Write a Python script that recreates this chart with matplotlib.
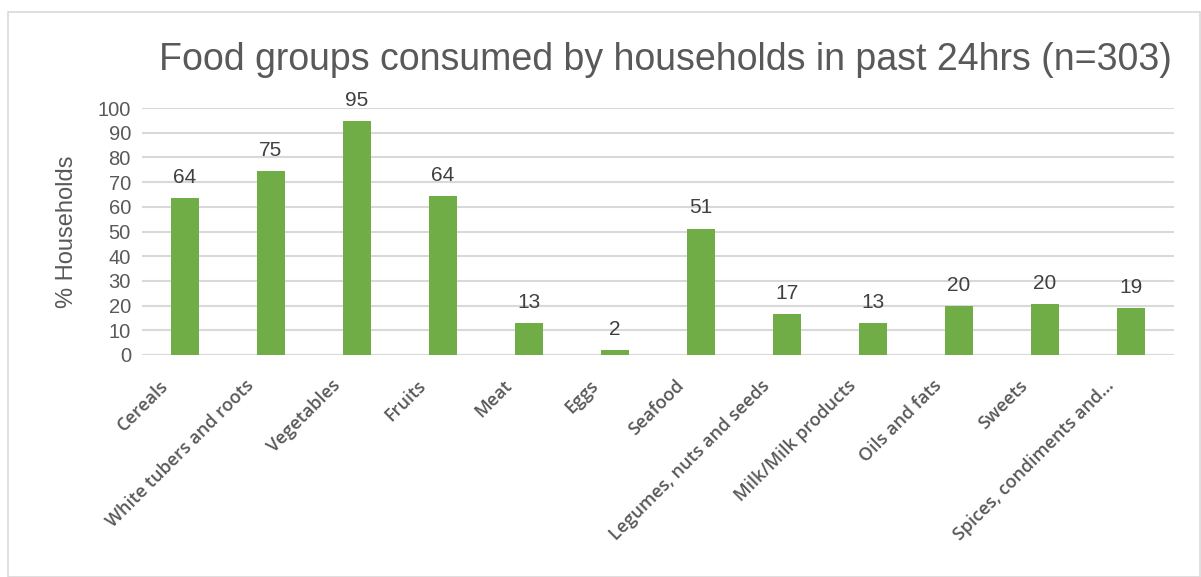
import matplotlib.pyplot as plt
from matplotlib.patches import Rectangle
from matplotlib.transforms import ScaledTranslation

groups = ["Cereals", "White tubers and roots", "Vegetables", "Fruits", "Meat", "Eggs",
          "Seafood", "Legumes, nuts and seeds", "Milk/Milk products", "Oils and fats",
          "Sweets", "Spices, condiments and..."]
pct = [63.7, 74.6, 94.7, 64.4, 12.9, 2.0, 51.2, 16.5, 12.9, 19.8, 20.5, 19.1]
labels = ["64", "75", "95", "64", "13", "2", "51", "17", "13", "20", "20", "19"]

grey = "#595959"
green = "#70ad47"

fig = plt.figure(figsize=(12.01, 5.77), dpi=100)
fig.patches.append(Rectangle((8/1201, 0), 1 - 9/1201, 1 - 12/577, transform=fig.transFigure,
                             fill=False, edgecolor="#d9d9d9", linewidth=1.2))
ax = fig.add_axes([142/1201, 222/577, 1032/1201, 247/577])

x = range(len(groups))
ax.bar(x, pct, width=0.32, color=green, zorder=3)
for i, v in enumerate(pct):
    ax.text(i, v + 4.5, labels[i], ha="center", va="bottom", fontsize=15,
            family="Liberation Sans", color="#404040")

ax.set_xlim(-0.5, len(groups) - 0.5)
ax.set_ylim(0, 100)
ax.set_yticks(range(0, 101, 10))
ax.yaxis.grid(True, color="#d9d9d9", linewidth=1.5, zorder=0)
for s in ax.spines.values():
    s.set_visible(False)
ax.axhline(0, color="#d9d9d9", linewidth=1.5, zorder=2)
ax.tick_params(length=0)
ax.tick_params(axis="y", labelsize=14.5, colors=grey, pad=8)
for t in ax.get_yticklabels():
    t.set_family("Liberation Sans")

ax.set_xticks(list(x))
ax.set_xticklabels(groups, rotation=45, ha="right", rotation_mode="anchor",
                   fontsize=13, color=grey, family="Open Sans", fontweight="semibold")
ax.tick_params(axis="x", pad=14)
shift = ScaledTranslation(-26/100, -2/100, fig.dpi_scale_trans)
for t in ax.get_xticklabels():
    t.set_transform(t.get_transform() + shift)

ax.set_ylabel("% Households", fontsize=17, color=grey, family="Liberation Sans", labelpad=14)
fig.text(665/1201, 1 - 60/577, "Food groups consumed by households in past 24hrs (n=303)",
         ha="center", va="center", fontsize=27, color=grey, family="Liberation Sans")

fig.savefig("out.png", dpi=100)
